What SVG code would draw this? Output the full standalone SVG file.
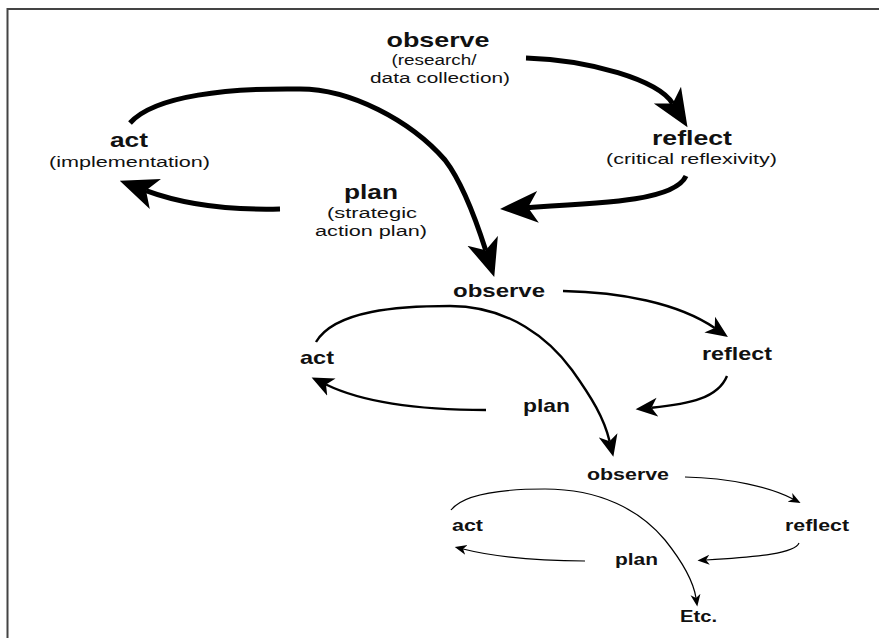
<svg xmlns="http://www.w3.org/2000/svg" width="879" height="638" viewBox="0 0 879 638">
<style>
text{font-family:"Liberation Sans",Arial,sans-serif;fill:#111;text-anchor:middle}
.b1{font-weight:bold;font-size:20.5px}
.s1{font-size:15.5px}
.b2{font-weight:bold;font-size:18.5px}
.b3{font-weight:bold;font-size:16px}
.c{fill:none;stroke:#000;stroke-linecap:butt}
.w1{stroke-width:5}
.w2{stroke-width:2.4}
.w3{stroke-width:1.2}
.frame{stroke:#444;stroke-width:2;fill:none}
</style>
<defs>
<marker id="h1" markerUnits="userSpaceOnUse" viewBox="0 -17 40 34" markerWidth="40" markerHeight="34" refX="10" refY="0" orient="auto">
<path d="M38,0 L0,-16 L10,0 L0,16 Z" fill="#000"/>
</marker>
<marker id="h2" markerUnits="userSpaceOnUse" viewBox="0 -10 23 20" markerWidth="23" markerHeight="20" refX="6" refY="0" orient="auto">
<path d="M22,0 L0,-9.5 L6,0 L0,9.5 Z" fill="#000"/>
</marker>
<marker id="h3" markerUnits="userSpaceOnUse" viewBox="0 -6 13 12" markerWidth="13" markerHeight="12" refX="3.5" refY="0" orient="auto">
<path d="M12,0 L0,-5 L3.5,0 L0,5 Z" fill="#000"/>
</marker>
</defs>
<path class="frame" d="M7.5,638 V9 H879"/>
<g id="connectors">
<path class="c w1" marker-end="url(#h1)" d="M526,58 C590,60 658,80 672.7,103.6"/>
<path class="c w1" marker-end="url(#h1)" d="M686,176 C675,200 610,203 528,207.4"/>
<path class="c w1" marker-end="url(#h1)" d="M280,209 C240,210 190,207 146,190.6"/>
<path class="c w1" marker-end="url(#h1)" d="M130,123 C155,95 230,88 300,89 C350,89 410,120 445,160 C462,182 476,220 485.7,250.3"/>
<path class="c w2" marker-end="url(#h2)" d="M563,291 C620,292 678,303 714.7,328"/>
<path class="c w2" marker-end="url(#h2)" d="M727,376 C718,398 690,404 651.5,407.8"/>
<path class="c w2" marker-end="url(#h2)" d="M486,410 C420,410 362,402 326,384.5"/>
<path class="c w2" marker-end="url(#h2)" d="M316,342 C335,310 400,306 450,306 C510,306 550,340 572,370 C592,398 604,418 609.6,441.2"/>
<path class="c w3" marker-end="url(#h3)" d="M685,477 C730,478 770,487 793,499"/>
<path class="c w3" marker-end="url(#h3)" d="M799,543 C795,553 760,557 706,560"/>
<path class="c w3" marker-end="url(#h3)" d="M585,561 C540,561 495,557 463,549"/>
<path class="c w3" marker-end="url(#h3)" d="M451,510 C465,492 510,489 545,489 C600,489 640,510 665,540 C685,565 694,585 696,598"/>
</g>
<g id="observe1">
<text class="b1" x="438" y="47" textLength="103" lengthAdjust="spacingAndGlyphs">observe</text>
<text class="s1" x="434" y="65" textLength="85" lengthAdjust="spacingAndGlyphs">(research/</text>
<text class="s1" x="440" y="83" textLength="140" lengthAdjust="spacingAndGlyphs">data collection)</text>
</g>
<g id="reflect1">
<text class="b1" x="692" y="145" textLength="80" lengthAdjust="spacingAndGlyphs">reflect</text>
<text class="s1" x="691.5" y="164" textLength="171" lengthAdjust="spacingAndGlyphs">(critical reflexivity)</text>
</g>
<g id="act1">
<text class="b1" x="129" y="147" textLength="38" lengthAdjust="spacingAndGlyphs">act</text>
<text class="s1" x="129.5" y="167" textLength="161" lengthAdjust="spacingAndGlyphs">(implementation)</text>
</g>
<g id="plan1">
<text class="b1" x="371" y="199" textLength="54" lengthAdjust="spacingAndGlyphs">plan</text>
<text class="s1" x="372" y="218" textLength="90" lengthAdjust="spacingAndGlyphs">(strategic</text>
<text class="s1" x="371" y="236" textLength="112" lengthAdjust="spacingAndGlyphs">action plan)</text>
</g>
<g id="observe2"><text class="b2" x="499" y="297" textLength="92" lengthAdjust="spacingAndGlyphs">observe</text></g>
<g id="reflect2"><text class="b2" x="737" y="360" textLength="70" lengthAdjust="spacingAndGlyphs">reflect</text></g>
<g id="act2"><text class="b2" x="317" y="364" textLength="34" lengthAdjust="spacingAndGlyphs">act</text></g>
<g id="plan2"><text class="b2" x="546.5" y="412" textLength="47" lengthAdjust="spacingAndGlyphs">plan</text></g>
<g id="observe3"><text class="b3" x="628" y="480" textLength="82" lengthAdjust="spacingAndGlyphs">observe</text></g>
<g id="reflect3"><text class="b3" x="817" y="531" textLength="64" lengthAdjust="spacingAndGlyphs">reflect</text></g>
<g id="act3"><text class="b3" x="467.5" y="531" textLength="31" lengthAdjust="spacingAndGlyphs">act</text></g>
<g id="plan3"><text class="b3" x="636.5" y="565" textLength="43" lengthAdjust="spacingAndGlyphs">plan</text></g>
<g id="etc"><text class="b3" x="698.5" y="622" textLength="37" lengthAdjust="spacingAndGlyphs">Etc.</text></g>
</svg>
